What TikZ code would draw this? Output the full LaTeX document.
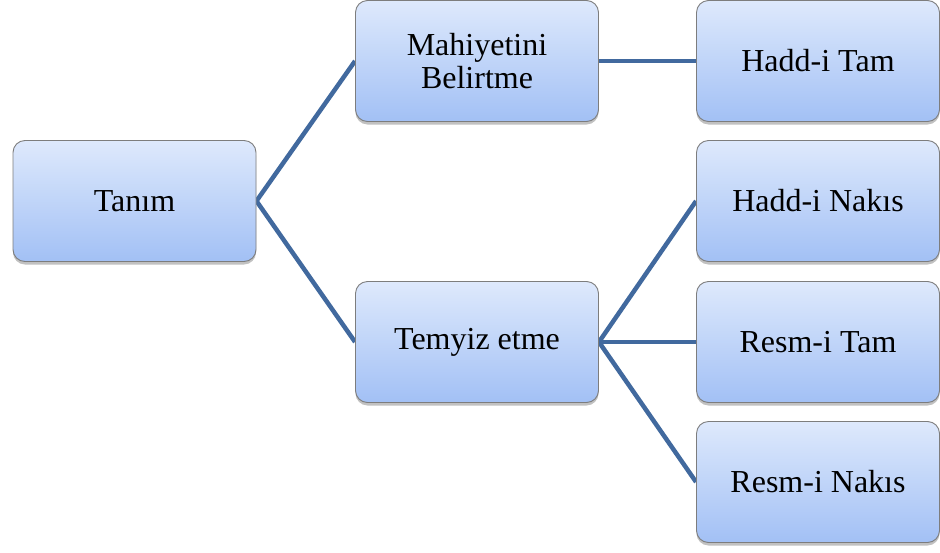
\documentclass[tikz,border=0pt]{standalone}
\usepackage{fontspec}
\setmainfont{Liberation Serif}
\usetikzlibrary{shadows,backgrounds}
\definecolor{boxtop}{RGB}{222,233,252}
\definecolor{boxbot}{RGB}{162,192,245}
\definecolor{boxborder}{RGB}{125,125,125}
\definecolor{linkcol}{RGB}{65,105,158}
\tikzset{
  box/.style={rectangle, rounded corners=12pt, minimum width=243pt, minimum height=121pt,
    top color=boxtop, bottom color=boxbot, draw=boxborder, line width=0.9pt,
    align=center, inner sep=2pt,
    font=\fontsize{32}{33}\selectfont,
    drop shadow={shadow xshift=0pt, shadow yshift=-3pt, opacity=0.35, fill=black!70}},
  link/.style={draw=linkcol, line width=4.5pt}
}
\begin{document}
\begin{tikzpicture}[x=1pt,y=-1pt]
\useasboundingbox (0,0) rectangle (940,552);
\node[box] (tanim) at (134.5,201) {Tanım};
\node[box] (mahi) at (477,61) {Mahiyetini\\Belirtme};
\node[box] (temyiz) at (477,342) {Temyiz etme};
\node[box] (ht) at (818,61) {Hadd-i Tam};
\node[box] (hn) at (818,201) {Hadd-i Nakıs};
\node[box] (rt) at (818,342) {Resm-i Tam};
\node[box] (rn) at (818,482) {Resm-i Nakıs};
\begin{pgfonlayer}{background}
\draw[link] (tanim.east) -- (mahi.west);
\draw[link] (tanim.east) -- (temyiz.west);
\draw[link] (mahi.east) -- (ht.west);
\draw[link] (temyiz.east) -- (hn.west);
\draw[link] (temyiz.east) -- (rt.west);
\draw[link] (temyiz.east) -- (rn.west);
\end{pgfonlayer}
\end{tikzpicture}
\end{document}
